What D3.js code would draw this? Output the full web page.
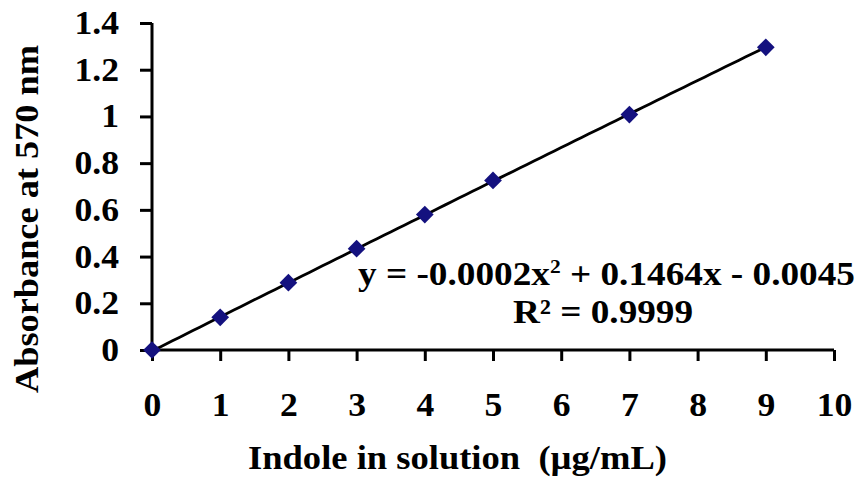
<!DOCTYPE html>
<html>
<head>
<meta charset="utf-8">
<script src="https://cdn.jsdelivr.net/npm/d3@7"></script>
<style>
  html, body { margin: 0; padding: 0; background: #fff; }
  svg text { font-family: "Liberation Serif", "Times New Roman", serif; font-weight: bold; fill: #000; }
</style>
</head>
<body>
<svg id="chart" width="859" height="478"></svg>
<script>
// Indole standard curve: absorbance readings
const concentrations = [0, 1, 2, 3, 4, 5, 7, 9];
const absorbance = [0, 0.14, 0.288, 0.434, 0.58, 0.726, 1.008, 1.296];
const xTicks = [0, 1, 2, 3, 4, 5, 6, 7, 8, 9, 10];
const yTicks = [0, 0.2, 0.4, 0.6, 0.8, 1, 1.2, 1.4];
// Polynomial trendline coefficients (a*x^2 + b*x + c) and fit quality
const trendCoef = [-0.0002, 0.1464, -0.0045];
const rSquared = "0.9999";

const svg = d3.select("#chart");
const margin = { left: 152, right: 25, top: 23, bottom: 128 };
const W = 859, H = 478;

const x = d3.scaleLinear().domain([0, 10]).range([margin.left, W - margin.right]);
const y = d3.scaleLinear().domain([0, 1.4]).range([H - margin.bottom, margin.top]);

const fs = 33;

// X axis
const xAxis = svg.append("g")
  .attr("transform", `translate(0,${y(0)})`)
  .call(d3.axisBottom(x).tickValues(xTicks).tickFormat(d3.format("d")).tickSize(11).tickPadding(32));
// Y axis
const yAxis = svg.append("g")
  .attr("transform", `translate(${x(0)},0)`)
  .call(d3.axisLeft(y).tickValues(yTicks).tickFormat(d => d3.format("~g")(d)).tickSize(12).tickPadding(21));

[xAxis, yAxis].forEach(g => {
  g.select(".domain").attr("stroke", "#000").attr("stroke-width", 3);
  g.selectAll(".tick line").attr("stroke", "#000").attr("stroke-width", 3);
  g.selectAll(".tick text").style("font-size", fs + "px").attr("fill", "#000");
});
// Plain axis lines without end stubs
xAxis.select(".domain").attr("d", `M${x(0)},0H${x(10)}`);
yAxis.select(".domain").attr("d", `M0,${y(0)}V${y(1.4)}`);
// Slightly widened digits, as in the source typography
xAxis.selectAll(".tick text").attr("transform", "scale(1.08,1)");
yAxis.selectAll(".tick text").each(function () {
  const t = d3.select(this);
  const tx = +t.attr("x");
  t.attr("transform", `translate(${tx},0) scale(1.08,1) translate(${-tx},0)`);
});

// Trendline
const trend = t => trendCoef[0] * t * t + trendCoef[1] * t + trendCoef[2];
const tSamples = d3.range(0, 9.0001, 0.1);
svg.append("path")
  .datum(tSamples)
  .attr("fill", "none")
  .attr("stroke", "#000")
  .attr("stroke-width", 2.8)
  .attr("d", d3.line().x(t => x(t)).y(t => y(Math.max(trend(t), 0))));

// Data markers
svg.append("g").selectAll("path")
  .data(concentrations.map((c, i) => [c, absorbance[i]]))
  .join("path")
  .attr("transform", d => `translate(${x(d[0])},${y(d[1])})`)
  .attr("d", d3.symbol(d3.symbolDiamond2, 200)())
  .attr("fill", "#14117f");

// Equation label
const eq = svg.append("text")
  .attr("x", 358).attr("y", 285)
  .attr("textLength", 497)
  .attr("lengthAdjust", "spacingAndGlyphs")
  .style("font-size", fs + "px");
eq.append("tspan").text("y = -0.0002x");
eq.append("tspan").attr("dy", -12).style("font-size", "19px").text("2");
eq.append("tspan").attr("dy", 12).text(" + 0.1464x - 0.0045");

svg.append("text")
  .attr("x", 513).attr("y", 323)
  .attr("textLength", 180)
  .attr("lengthAdjust", "spacingAndGlyphs")
  .style("font-size", fs + "px")
  .text("R² = " + rSquared);

// Axis titles
svg.append("text")
  .attr("x", 248).attr("y", 469)
  .attr("textLength", 419)
  .attr("lengthAdjust", "spacingAndGlyphs")
  .attr("xml:space", "preserve")
  .style("font-size", fs + "px")
  .text("Indole in solution  (µg/mL)");

svg.append("text")
  .attr("transform", `translate(38,393) rotate(-90)`)
  .attr("textLength", 348)
  .attr("lengthAdjust", "spacingAndGlyphs")
  .style("font-size", fs + "px")
  .text("Absorbance at 570 nm");
</script>
</body>
</html>
